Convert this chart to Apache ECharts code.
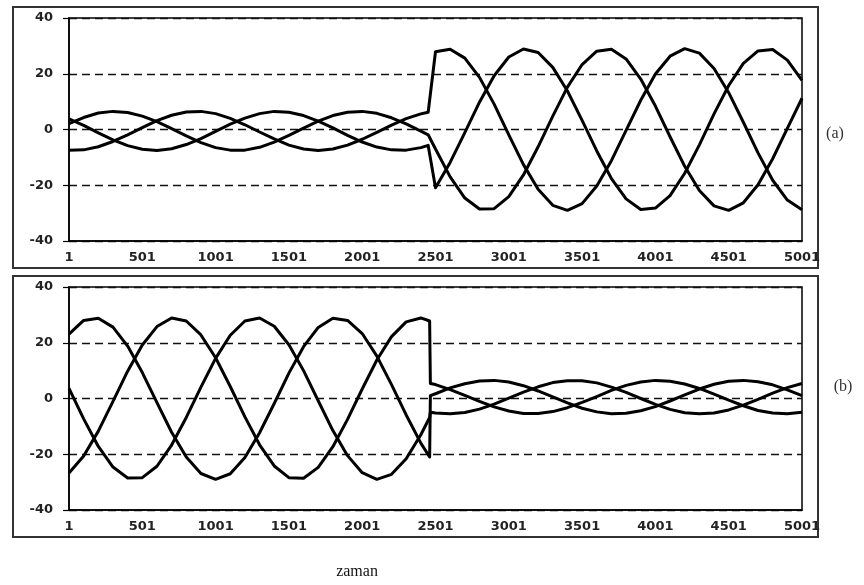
<!DOCTYPE html>
<html><head><meta charset="utf-8">
<script src="https://cdn.jsdelivr.net/npm/echarts@6/dist/echarts.min.js"></script>
<style>html,body{margin:0;padding:0;background:#fff}#c{width:864px;height:585px}</style>
</head><body><div id="c"></div>
<script>
// x tick labels (sample numbers)
const xTickLabels = ['1','501','1001','1501','2001','2501','3001','3501','4001','4501','5001'];
const panelLabels = ['(a)', '(b)'];
const xTitle = 'zaman';

// sample positions (sample number - 1)
const tTop = [0,100,200,300,400,500,600,700,800,900,1000,1100,1200,1300,1400,1500,1600,1700,1800,1900,2000,2100,2200,2300,2400,2450,
  2500,2600,2700,2800,2900,3000,3100,3200,3300,3400,3500,3600,3700,3800,3900,4000,4100,4200,4300,4400,4500,4600,4700,4800,4900,5000];
const tBottom = [0,100,200,300,400,500,600,700,800,900,1000,1100,1200,1300,1400,1500,1600,1700,1800,1900,2000,2100,2200,2300,2400,2460,2465,
  2500,2600,2700,2800,2900,3000,3100,3200,3300,3400,3500,3600,3700,3800,3900,4000,4100,4200,4300,4400,4500,4600,4700,4800,4900,5000];

// panel (a) phases
const topA = [-7.4,-7.3,-6.2,-4.3,-1.9,0.7,3.2,5.1,6.3,6.5,5.7,4.0,1.7,-0.9,-3.4,-5.6,-7.0,-7.5,-7.0,-5.6,-3.5,-1.0,1.6,3.9,5.6,6.2,
  27.9,28.8,25.6,18.7,9.1,-1.9,-12.6,-21.4,-27.2,-29.0,-26.6,-20.3,-11.2,-0.3,10.5,19.9,26.3,29.0,27.4,21.9,13.2,2.6,-8.4,-18.2,-25.3,-28.8];
const topB = [3.8,1.5,-1.2,-3.7,-5.8,-7.1,-7.5,-6.9,-5.4,-3.3,-0.7,1.9,4.1,5.7,6.5,6.2,5.0,3.0,0.6,-2.1,-4.5,-6.3,-7.3,-7.4,-6.5,-5.7,
  -20.9,-11.8,-1.1,9.8,19.3,26.0,28.9,27.6,22.3,13.8,3.3,-7.7,-17.6,-24.9,-28.7,-28.2,-23.7,-15.7,-5.5,5.6,15.8,23.7,28.2,28.7,24.9,17.6];
const topC = [2.1,4.3,5.9,6.5,6.1,4.8,2.8,0.3,-2.3,-4.7,-6.5,-7.4,-7.4,-6.4,-4.5,-2.1,0.5,3.0,5.0,6.2,6.5,5.8,4.2,2.0,-0.6,-1.9,
  -7.0,-17.0,-24.6,-28.5,-28.4,-24.1,-16.3,-6.2,4.8,15.2,23.3,28.1,28.8,25.3,18.1,8.4,-2.6,-13.2,-21.9,-27.4,-29.0,-26.3,-19.8,-10.5,0.4,11.2];

// panel (b) phases
const bottomA = [23.1,28.0,28.8,25.6,18.8,9.3,-1.5,-12.1,-21.0,-26.9,-29.0,-27.0,-21.2,-12.3,-1.8,9.1,18.6,25.5,28.8,28.0,23.3,15.2,5.0,-5.9,-16.0,-21.0,
  1.0,1.7,3.8,5.3,6.3,6.5,5.9,4.6,2.7,0.6,-1.6,-3.5,-4.8,-5.5,-5.3,-4.4,-2.9,-0.9,1.3,3.4,5.1,6.2,6.5,6.0,4.9,3.1,1.0];
const bottomB = [3.6,-7.3,-17.2,-24.6,-28.5,-28.4,-24.3,-16.7,-6.8,4.1,14.4,22.7,27.8,28.9,25.9,19.3,10.0,-0.8,-11.5,-20.5,-26.6,-29.0,-27.2,-21.6,-13.0,-6.8,
  -4.9,-5.2,-5.5,-5.0,-3.8,-2.0,0.1,2.3,4.2,5.7,6.4,6.4,5.6,4.1,2.2,0.0,-2.1,-3.9,-5.1,-5.5,-5.2,-4.1,-2.4,-0.3,1.9,3.9,5.4];
const bottomC = [-26.7,-20.6,-11.7,-1.0,9.8,19.2,25.8,28.9,27.8,22.8,14.6,4.3,-6.6,-16.6,-24.2,-28.4,-28.6,-24.7,-17.3,-7.5,3.4,13.8,22.2,27.5,28.9,27.8,
  5.4,5.0,3.2,1.1,-1.0,-3.0,-4.5,-5.4,-5.4,-4.7,-3.3,-1.4,0.7,2.9,4.7,5.9,6.5,6.2,5.2,3.6,1.6,-0.6,-2.6,-4.3,-5.2,-5.5,-4.9];

const zip = (ts, vs) => vs.map((v, i) => [ts[i], v]);

const labelFont = {color:'#222', fontFamily:'DejaVu Sans', fontWeight:'bold', fontSize:13};

function xAx(g){
  return {gridIndex:g, type:'value', min:0, max:5000, interval:500,
    axisLine:{show:true, onZero:false, lineStyle:{color:'#000', width:1.5}},
    axisTick:{show:false}, splitLine:{show:false},
    axisLabel:Object.assign({margin:10, formatter:v => xTickLabels[Math.round(v/500)]}, labelFont)};
}
function yAx(g){
  return {gridIndex:g, type:'value', min:-40, max:40, interval:20,
    axisLine:{show:true, lineStyle:{color:'#000', width:1.5}},
    axisTick:{show:true, inside:false, length:6, lineStyle:{color:'#000', width:1.2}},
    splitLine:{show:true, lineStyle:{type:[8,5], color:'#111', width:1.3}},
    axisLabel:Object.assign({margin:16}, labelFont)};
}
function ser(g, ts, vs){
  return {type:'line', xAxisIndex:g, yAxisIndex:g, data:zip(ts, vs), showSymbol:false, symbol:'none',
    smooth:false, lineStyle:{color:'#000', width:3, join:'round'}, itemStyle:{color:'#000'}, silent:true, z:3};
}

const chart = echarts.init(document.getElementById('c'), null, {renderer:'canvas'});
chart.setOption({
  animation:false,
  backgroundColor:'#fff',
  grid:[
    {left:69, top:18, width:733, height:223, show:true, borderColor:'#000', borderWidth:1.5, containLabel:false, outerBoundsMode:'none'},
    {left:69, top:287, width:733, height:223, show:true, borderColor:'#000', borderWidth:1.5, containLabel:false, outerBoundsMode:'none'}
  ],
  xAxis:[xAx(0), xAx(1)],
  yAxis:[yAx(0), yAx(1)],
  series:[
    ser(0, tTop, topA), ser(0, tTop, topB), ser(0, tTop, topC),
    ser(1, tBottom, bottomA), ser(1, tBottom, bottomB), ser(1, tBottom, bottomC)
  ],
  graphic:[
    {type:'rect', silent:true, shape:{x:13, y:7, width:805, height:261}, style:{fill:'none', stroke:'#333', lineWidth:2}},
    {type:'rect', silent:true, shape:{x:13, y:276, width:805, height:261}, style:{fill:'none', stroke:'#333', lineWidth:2}},
    {type:'text', silent:true, x:835, y:134, style:{text:panelLabels[0], fontFamily:'Liberation Serif', fontSize:16, fill:'#333', align:'center', verticalAlign:'middle'}},
    {type:'text', silent:true, x:843, y:387, style:{text:panelLabels[1], fontFamily:'Liberation Serif', fontSize:16, fill:'#333', align:'center', verticalAlign:'middle'}},
    {type:'text', silent:true, x:357, y:572, style:{text:xTitle, fontFamily:'Liberation Serif', fontSize:16, fill:'#111', align:'center', verticalAlign:'middle'}}
  ]
});
</script>
</body></html>
